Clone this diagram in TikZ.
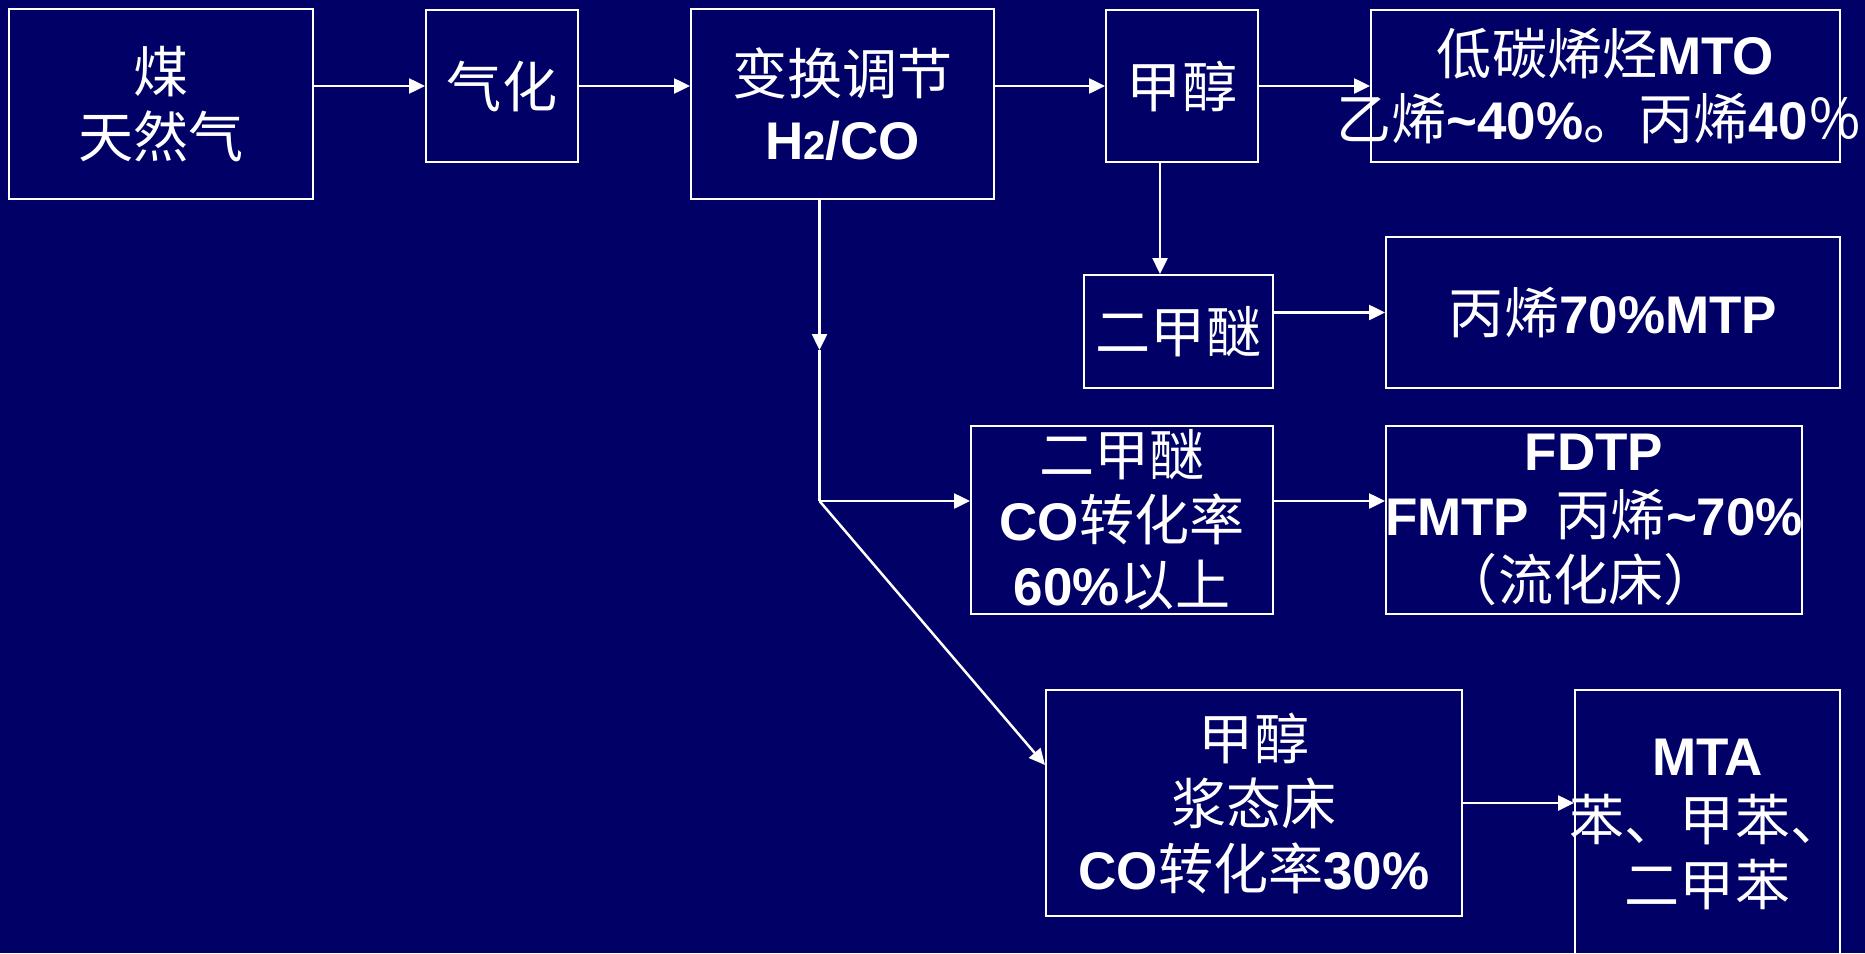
\documentclass[tikz,border=0pt]{standalone}
\usepackage{fontspec}
\setmainfont{Liberation Sans}
\newfontfamily\cjk{Noto Sans CJK SC}[Scale=1.04]
\usetikzlibrary{arrows.meta}
\definecolor{bg}{RGB}{0,0,102}
\newcommand\CJ[1]{{\cjk #1}}
\newcommand\LB[1]{{\bfseries #1}}
\newcommand\ZW[1]{\makebox[0pt][c]{#1}}
\tikzset{
  box/.style={draw=white, line width=2pt, inner sep=0pt, text=white, align=center,
    font=\fontsize{53}{65}\selectfont},
  wire/.style={draw=white, line width=2.5pt},
  arr/.style={wire, -{Triangle[length=16pt,width=15pt]}}
}
\begin{document}
\begin{tikzpicture}[x=1pt,y=-1pt]
\fill[bg] (0,0) rectangle (1865,953);
\useasboundingbox (0,0) rectangle (1865,953);

\node[box, minimum width=303.5pt, minimum height=189.5pt] (coal) at (161,104) {\CJ{煤}\\\CJ{天然气}};
\node[box, minimum width=152pt, minimum height=152.5pt] (gas) at (502,86) {\CJ{气化}};
\node[box, minimum width=303pt, minimum height=189.5pt] (shift) at (842.5,104) {\CJ{变换调节}\\\LB{H{\fontsize{40}{40}\selectfont 2}/CO}};
\node[box, minimum width=152pt, minimum height=152.5pt] (meoh) at (1182,86) {\CJ{甲醇}};
\node[box, minimum width=469pt, minimum height=152.5pt] (mto) at (1605.5,86) {\ZW{\CJ{低碳烯烃}\LB{MTO}}\\\ZW{\CJ{乙烯}\LB{\textasciitilde 40\%}\CJ{。丙烯}\LB{40}\CJ{％}\hspace{12pt}}};
\node[box, minimum width=189pt, minimum height=113pt] (dme) at (1178.5,331.5) {\CJ{二甲醚}};
\node[box, minimum width=454pt, minimum height=151pt] (mtp) at (1613,312.5) {\CJ{丙烯}\LB{70\%MTP}};
\node[box, minimum width=302pt, minimum height=188pt] (dme2) at (1122,520) {\CJ{二甲醚}\\\LB{CO}\CJ{转化率}\\\LB{60\%}\CJ{以上}};
\node[box, minimum width=416pt, minimum height=188pt] (fdtp) at (1594,520) {\ZW{\LB{FDTP}}\\\ZW{\LB{FMTP}\hspace{0.5em}\CJ{丙烯}\LB{\textasciitilde 70\%}}\\\ZW{\hspace{-0.5em}\CJ{（流化床）}}};
\node[box, minimum width=416pt, minimum height=226pt] (slurry) at (1254,803) {\CJ{甲醇}\\\CJ{浆态床}\\\LB{CO}\CJ{转化率}\LB{30\%}};
\node[box, minimum width=265pt, minimum height=268pt] (mta) at (1707.5,824) {\ZW{\LB{MTA}}\\\ZW{\CJ{苯、甲苯、}}\\\ZW{\CJ{二甲苯}}};

\coordinate (m) at (819.5,350);
\coordinate (j) at (819.5,501);

\draw[arr] (coal.east |- gas.west) -- (gas.west);
\draw[arr] (gas.east) -- (gas.east -| shift.west);
\draw[arr] (shift.east |- meoh.west) -- (meoh.west);
\draw[arr] (meoh.east) -- (mto.west);
\draw[arr] ([xshift=-22pt]meoh.south) -- ([xshift=-22pt]meoh.south |- dme.north);
\draw[arr] (dme.east |- mtp.west) -- (mtp.west);
\draw[arr] ([xshift=-23pt]shift.south) -- (m);
\draw[wire] (m) -- (j);
\draw[arr] (j) -- (j -| dme2.west);
\draw[arr] (dme2.east |- j) -- (fdtp.west |- j);
\draw[arr] (j) -- ([yshift=38pt]slurry.west);
\draw[arr] (slurry.east) -- (slurry.east -| mta.west);
\end{tikzpicture}
\end{document}
